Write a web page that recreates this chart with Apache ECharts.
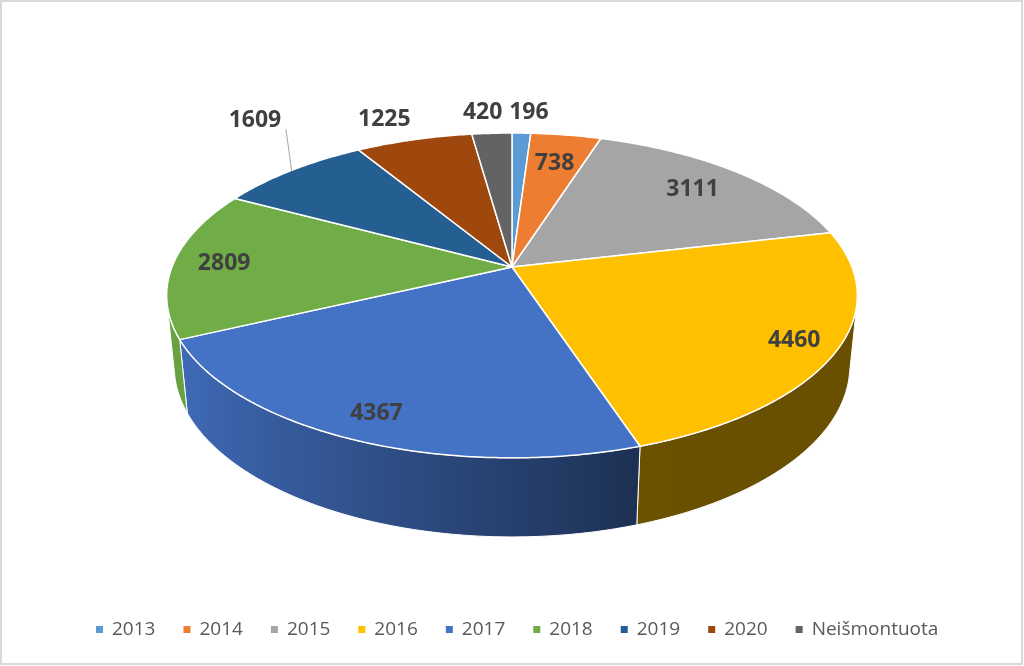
<!DOCTYPE html>
<html>
<head>
<meta charset="utf-8">
<title>3D pie</title>
<script src="https://cdn.jsdelivr.net/npm/echarts@6/dist/echarts.min.js"></script>
<style>
html, body { margin: 0; padding: 0; background: #fff; }
#main { width: 1024px; height: 666px; }
</style>
</head>
<body>
<div id="main"></div>
<script>
var categories = ['2013', '2014', '2015', '2016', '2017', '2018', '2019', '2020', 'Neišmontuota'];
var values = [196, 738, 3111, 4460, 4367, 2809, 1609, 1225, 420];

var colors = ['#5B9BD5', '#ED7D31', '#A5A5A5', '#FFC000', '#4472C4', '#70AD47', '#255E91', '#9E480E', '#636363'];

// label layout: radius (fraction of pie radius) where each value label sits
var labelRadius = {'2013': 1.19, '2014': 0.76, '2015': 0.79, '2016': 0.88, '2017': 0.87,
                   '2018': 0.85, '2019': 1.19, '2020': 1.19, 'Neišmontuota': 1.19};
// small sideways nudges so the outside labels don't collide
var labelNudge = {'2013': 6, 'Neišmontuota': -6, '2020': -14};
// labels pulled away from their slice and tied back with a leader line
var leader = {'2019': -34};

// perspective camera for the tilted disc
var cx = 512, cy = 267, A = 340;
var sinA = 0.463, cosA = 0.886, rd = 0.1975, k = rd * cosA, tau = 0.236;
var visFrom = Math.acos(-0.223), visTo = 2 * Math.PI - visFrom;

var total = 0, starts = [];
for (var i = 0; i < values.length; i++) {
    starts.push(total);
    total += values[i];
}

function project(theta, r, bottom) {
    var u = r * Math.sin(theta), v = r * Math.cos(theta);
    var t = bottom ? tau : 0;
    var depth = 1 + k * v + t * rd * sinA;
    return [cx + A * u / depth, cy - A * (v * sinA - t * cosA) / depth];
}

function shade(hex, theta) {
    var d = -Math.sin(theta);
    var f = Math.min(1, Math.max(0, (d + 0.35) / 1.25));
    var s = 0.41 + 0.52 * f;
    var n = parseInt(hex.slice(1), 16);
    var r = Math.round(((n >> 16) & 255) * s), g = Math.round(((n >> 8) & 255) * s), b = Math.round((n & 255) * s);
    return 'rgb(' + r + ',' + g + ',' + b + ')';
}

function angles(i) {
    return [starts[i] / total * 2 * Math.PI, (starts[i] + values[i]) / total * 2 * Math.PI];
}

function renderSlice(i) {
    return function (params, api) {
        var a = angles(i), a0 = a[0], a1 = a[1];
        var children = [];
        var s0 = Math.max(a0, visFrom), s1 = Math.min(a1, visTo);
        if (s1 > s0) {
            var pts = [], n = Math.max(2, Math.ceil((s1 - s0) / 0.01)), j;
            for (j = 0; j <= n; j++) pts.push(project(s0 + (s1 - s0) * j / n, 1, false));
            for (j = n; j >= 0; j--) pts.push(project(s0 + (s1 - s0) * j / n, 1, true));
            var xa = project(s0, 1, false)[0], xb = project(s1, 1, false)[0];
            var xmin = Math.min(xa, xb), xmax = Math.max(xa, xb);
            var stops = [];
            for (j = 0; j <= 8; j++) {
                var th = s0 + (s1 - s0) * j / 8;
                var px = project(th, 1, false)[0];
                stops.push({offset: xmax > xmin ? (px - xmin) / (xmax - xmin) : 0, color: shade(colors[i], th)});
            }
            stops.sort(function (p, q) { return p.offset - q.offset; });
            children.push({
                type: 'polygon',
                shape: {points: pts},
                style: {
                    fill: new echarts.graphic.LinearGradient(xmin, 0, xmax, 0, stops, true),
                    stroke: '#fff', lineWidth: 1
                }
            });
        }
        var top = [[cx, cy]];
        var m = Math.max(2, Math.ceil((a1 - a0) / 0.01));
        for (var q = 0; q <= m; q++) top.push(project(a0 + (a1 - a0) * q / m, 1, false));
        children.push({
            type: 'polygon',
            shape: {points: top},
            style: {fill: colors[i], stroke: '#fff', lineWidth: 1.5, lineJoin: 'round'}
        });
        return {type: 'group', children: children};
    };
}

function renderLabel(params, api) {
    var i = params.dataIndex, name = categories[i];
    var a = angles(i), mid = (a[0] + a[1]) / 2;
    var p = project(mid, labelRadius[name], false);
    p = [p[0] + (labelNudge[name] || 0), p[1]];
    var children = [];
    var lift = leader[name];
    if (lift) {
        p = [p[0], p[1] + lift];
        var rim = project(mid, 1, false);
        children.push({
            type: 'line',
            shape: {x1: p[0] + 31, y1: p[1] + 9, x2: rim[0], y2: rim[1]},
            style: {stroke: '#a6a6a6', lineWidth: 1}
        });
    }
    children.push({
        type: 'text',
        x: p[0], y: p[1],
        style: {
            text: String(api.value(0)),
            fill: '#404040',
            font: 'bold 23px "Open Sans"',
            align: 'center',
            verticalAlign: 'middle'
        }
    });
    return {type: 'group', children: children};
}

var series = [];
for (var s = 0; s < categories.length; s++) {
    series.push({
        name: categories[s],
        type: 'custom',
        coordinateSystem: 'none',
        color: colors[s],
        itemStyle: {color: colors[s]},
        renderItem: renderSlice(s),
        data: [values[s]],
        silent: true
    });
}
series.push({
    name: 'labels',
    type: 'custom',
    coordinateSystem: 'none',
    z: 5,
    renderItem: renderLabel,
    data: values,
    silent: true
});

var myChart = echarts.init(document.getElementById('main'));
var option = {
    animation: false,
    backgroundColor: '#fff',
    graphic: [{
        type: 'rect',
        shape: {x: 1, y: 1, width: 1021, height: 663},
        style: {fill: 'none', stroke: '#d9d9d9', lineWidth: 2},
        silent: true
    }],
    legend: {
        data: categories,
        left: 91,
        top: 615,
        icon: 'rect',
        itemWidth: 7,
        itemHeight: 7,
        itemGap: 28,
        selectedMode: false,
        textStyle: {fontFamily: 'Open Sans', fontSize: 19, color: '#595959', padding: [0, 0, 0, 4]}
    },
    series: series
};
myChart.setOption(option);
</script>
</body>
</html>
